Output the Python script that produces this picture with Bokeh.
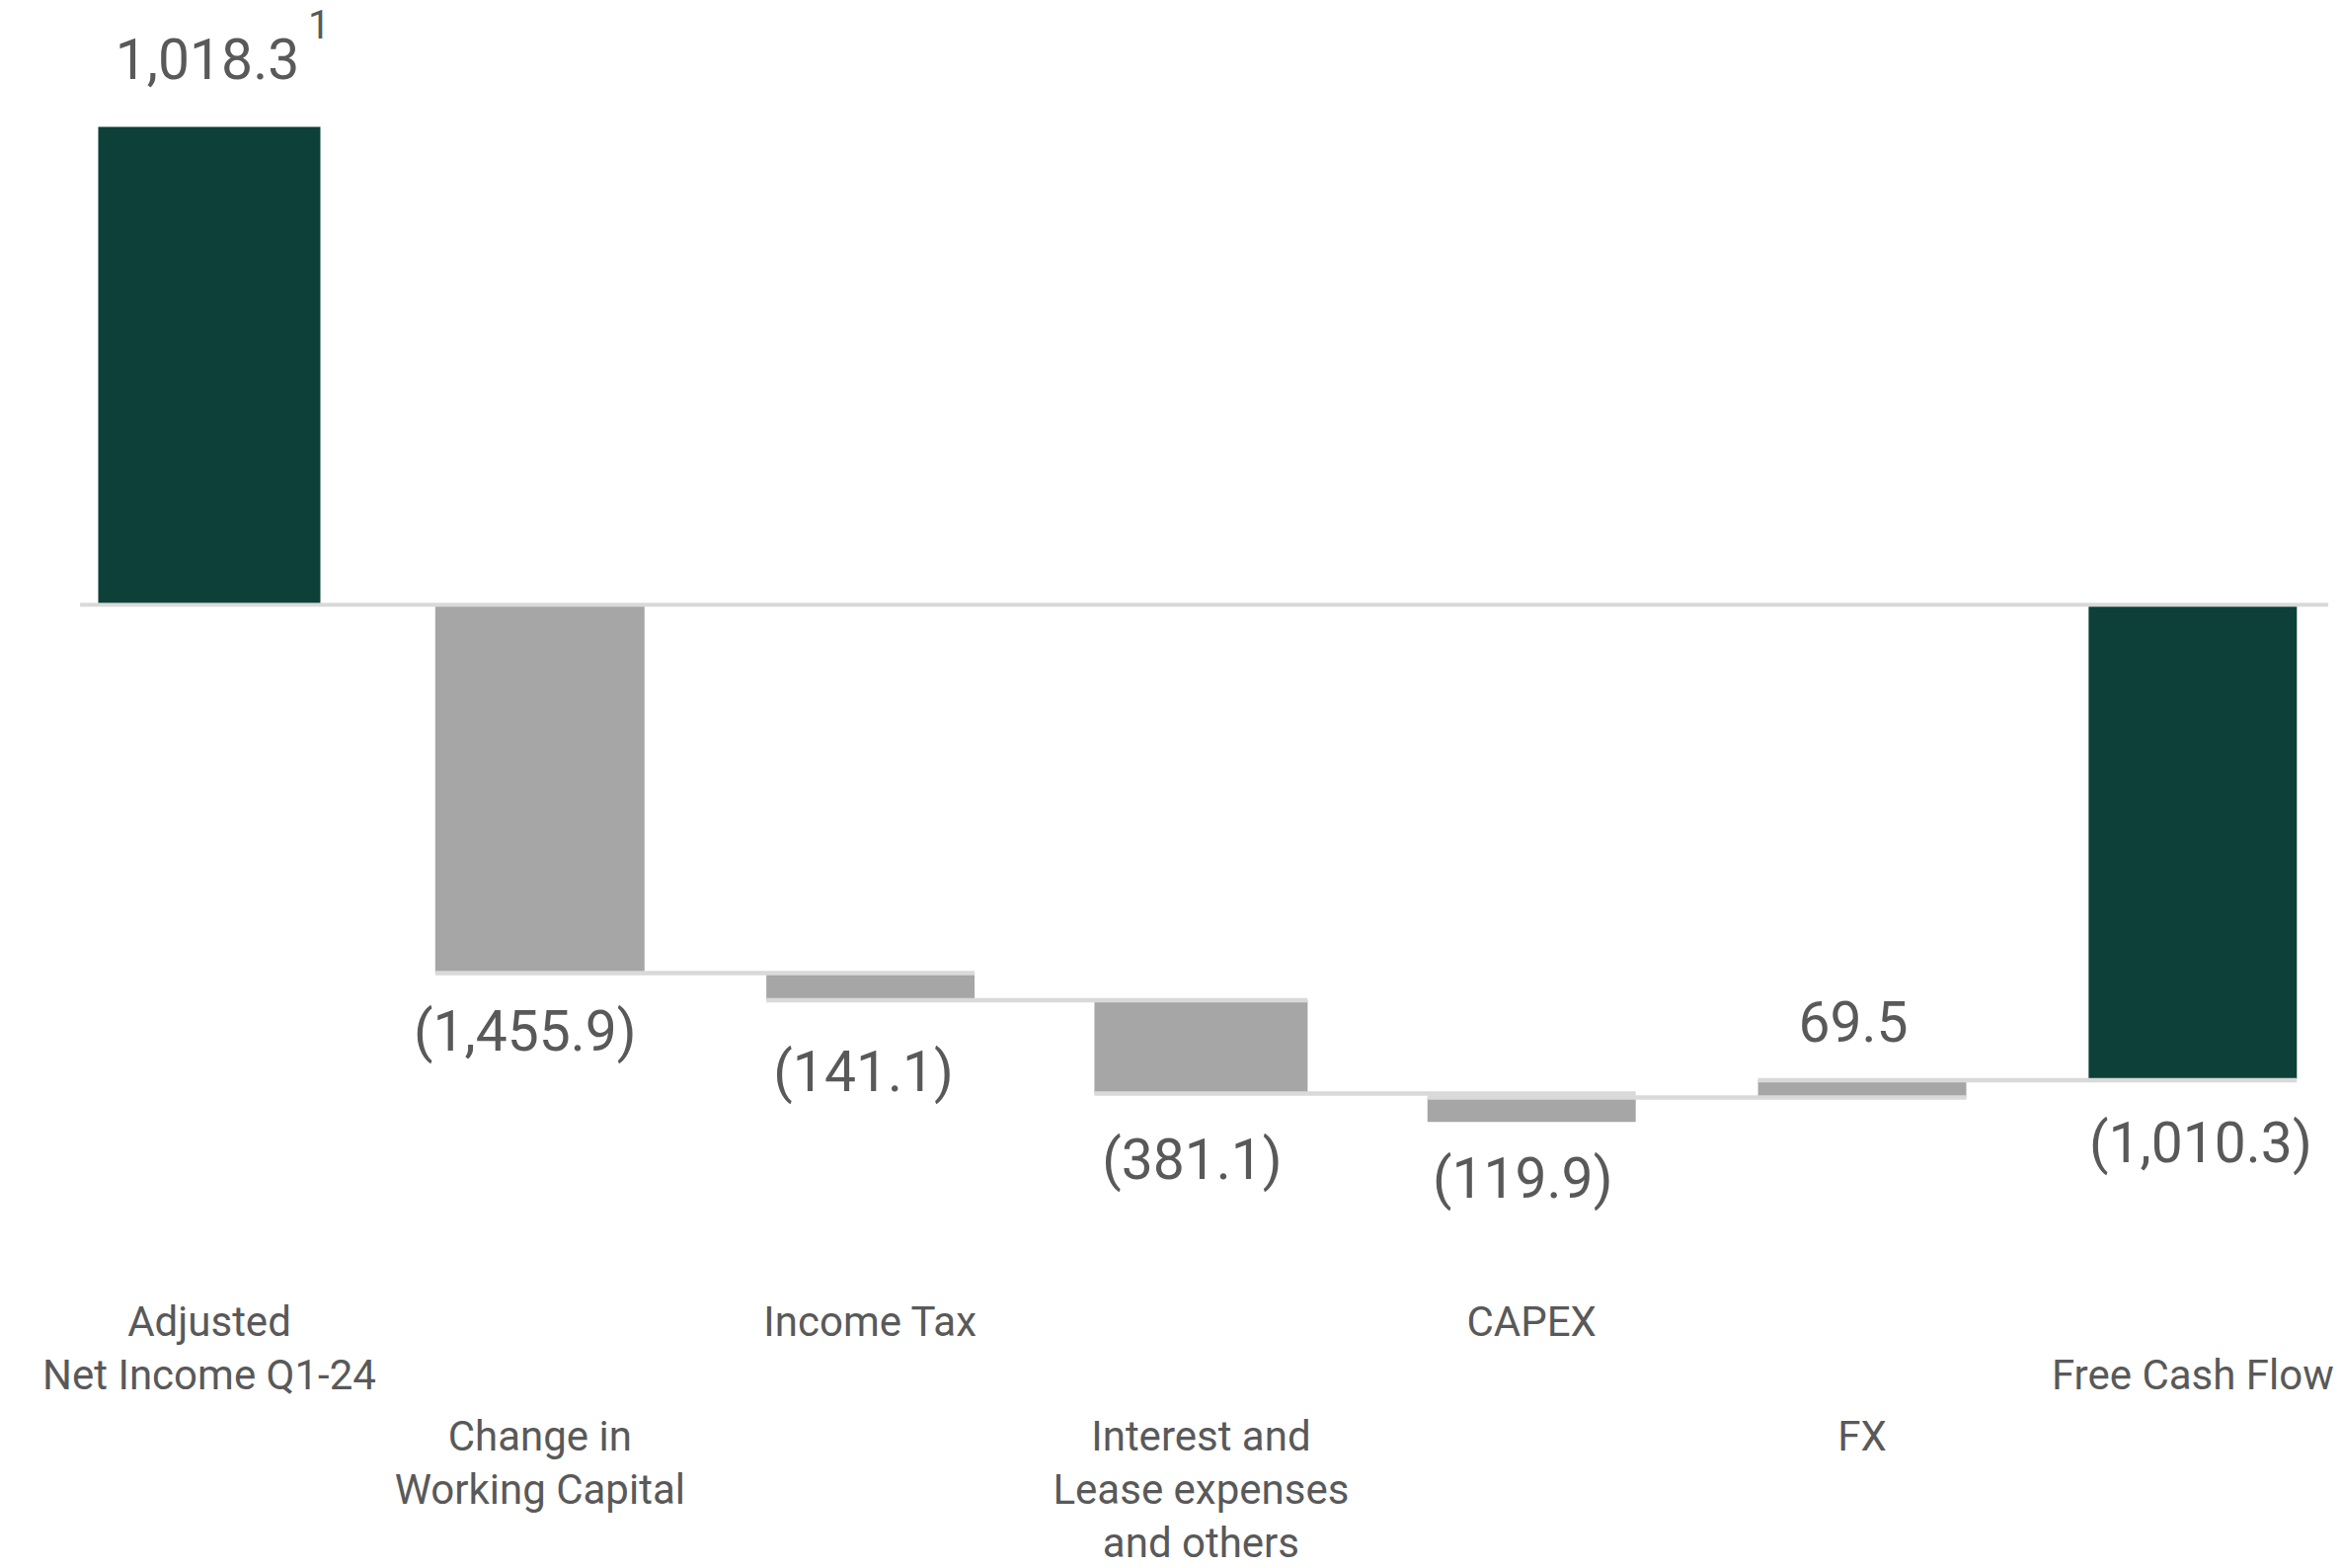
from bokeh.plotting import figure
from bokeh.models import ColumnDataSource, Range1d
from bokeh.core.properties import value
from bokeh.embed import file_html
from bokeh.resources import INLINE

# ---------------- data ----------------
categories = ["Adjusted\nNet Income Q1-24", "Change in\nWorking Capital", "Income Tax",
              "Interest and\nLease expenses\nand others", "CAPEX", "FX", "Free Cash Flow"]
label_values = [1018.3, -1455.9, -141.1, -381.1, -119.9, 69.5, -1010.3]
# bar extents as drawn in the picture (chart units)
bar_top = [1018.3, 0.0, -785.0, -842.6, -1050.0, -1013.0, 0.0]
bar_bottom = [0.0, -785.0, -842.6, -1041.4, -1102.0, -1050.0, -1010.3]
connector_level = [0.0, -785.0, -842.6, -1041.4, -1050.0, -1013.0]
bar_kind = ["total", "delta", "delta", "delta", "delta", "delta", "total"]
footnote_mark = "1"

# ---------------- style ----------------
W, H = 2371, 1588
GREEN = "#0c4038"
GREY = "#a6a6a6"
LINE = "#d9d9d9"
TEXT = "#595959"
FONT = "Roboto"
bar_widths = [0.672, 0.633, 0.63, 0.645, 0.63, 0.63, 0.63]
SHIFT = -19
value_dx = [-2, -15, -7, -9, -9, -9, 8]
value_dy = [d + SHIFT for d in [-50, 78, 92, 86, 76, -40, 84]]
cat_row_start = [0, 2.15, 0, 2.15, 0, 2.15, 1]
cat_base_dy = 745 + SHIFT
cat_pitch = 54

x = list(range(len(categories)))
colors = [GREEN if k == "total" else GREY for k in bar_kind]

p = figure(width=W, height=H, output_backend="svg", toolbar_location=None,
           x_range=Range1d(-0.6317, 6.450), y_range=Range1d(-2053.4, 1287.6),
           min_border=0, min_border_left=0, min_border_right=0,
           min_border_top=0, min_border_bottom=0)
p.axis.visible = False
p.grid.visible = False
p.outline_line_color = None
p.background_fill_color = "white"
p.border_fill_color = "white"

bars = ColumnDataSource(dict(x=x, top=bar_top, bottom=bar_bottom, w=bar_widths, c=colors))
p.vbar(x="x", top="top", bottom="bottom", width="w", fill_color="c", line_color=None, source=bars)

# zero line
p.segment(x0=[x[0] - bar_widths[0] / 2 - 0.055], y0=[0.0],
          x1=[x[-1] + bar_widths[-1] / 2 + 0.095], y1=[0.0],
          line_color=LINE, line_width=4, line_cap="butt")

# connectors: from left edge of bar i to right edge of bar i+1
cx0, cx1, cy = [], [], []
for i, lev in enumerate(connector_level):
    if i == 0:
        continue
    cx0.append(x[i] - bar_widths[i] / 2)
    cx1.append(x[i + 1] + bar_widths[i + 1] / 2)
    cy.append(lev)
p.segment(x0=cx0, y0=cy, x1=cx1, y1=cy, line_color=LINE, line_width=4.5, line_cap="butt")

# value labels
def fmt(v):
    s = f"{abs(v):,.1f}"
    return f"({s})" if v < 0 else s

anchor = [t if v > 0 else b for v, t, b in zip(label_values, bar_top, bar_bottom)]
vl = ColumnDataSource(dict(x=x, y=anchor, t=[fmt(v) for v in label_values],
                           dx=value_dx, dy=value_dy))
p.text(x="x", y="y", text="t", x_offset="dx", y_offset="dy", source=vl,
       text_font=value(FONT), text_font_size="57px", text_color=TEXT,
       text_align="center", text_baseline="alphabetic")

# footnote superscript on first label
p.text(x=[x[0]], y=[anchor[0]], text=[footnote_mark], x_offset=100, y_offset=-85 + SHIFT,
       text_font=value(FONT), text_font_size="40px", text_color=TEXT,
       text_align="left", text_baseline="alphabetic")

# category labels (staggered rows)
lx, ly, lt, loff = [], [], [], []
for i, cat in enumerate(categories):
    for j, line in enumerate(cat.split("\n")):
        lx.append(x[i])
        ly.append(0.0)
        lt.append(line)
        loff.append(cat_base_dy + (cat_row_start[i] + j) * cat_pitch)
cl = ColumnDataSource(dict(x=lx, y=ly, t=lt, dy=loff))
p.text(x="x", y="y", text="t", y_offset="dy", source=cl,
       text_font=value(FONT), text_font_size="42px", text_color=TEXT,
       text_align="center", text_baseline="alphabetic")

open("out.html", "w").write(file_html(p, INLINE))
